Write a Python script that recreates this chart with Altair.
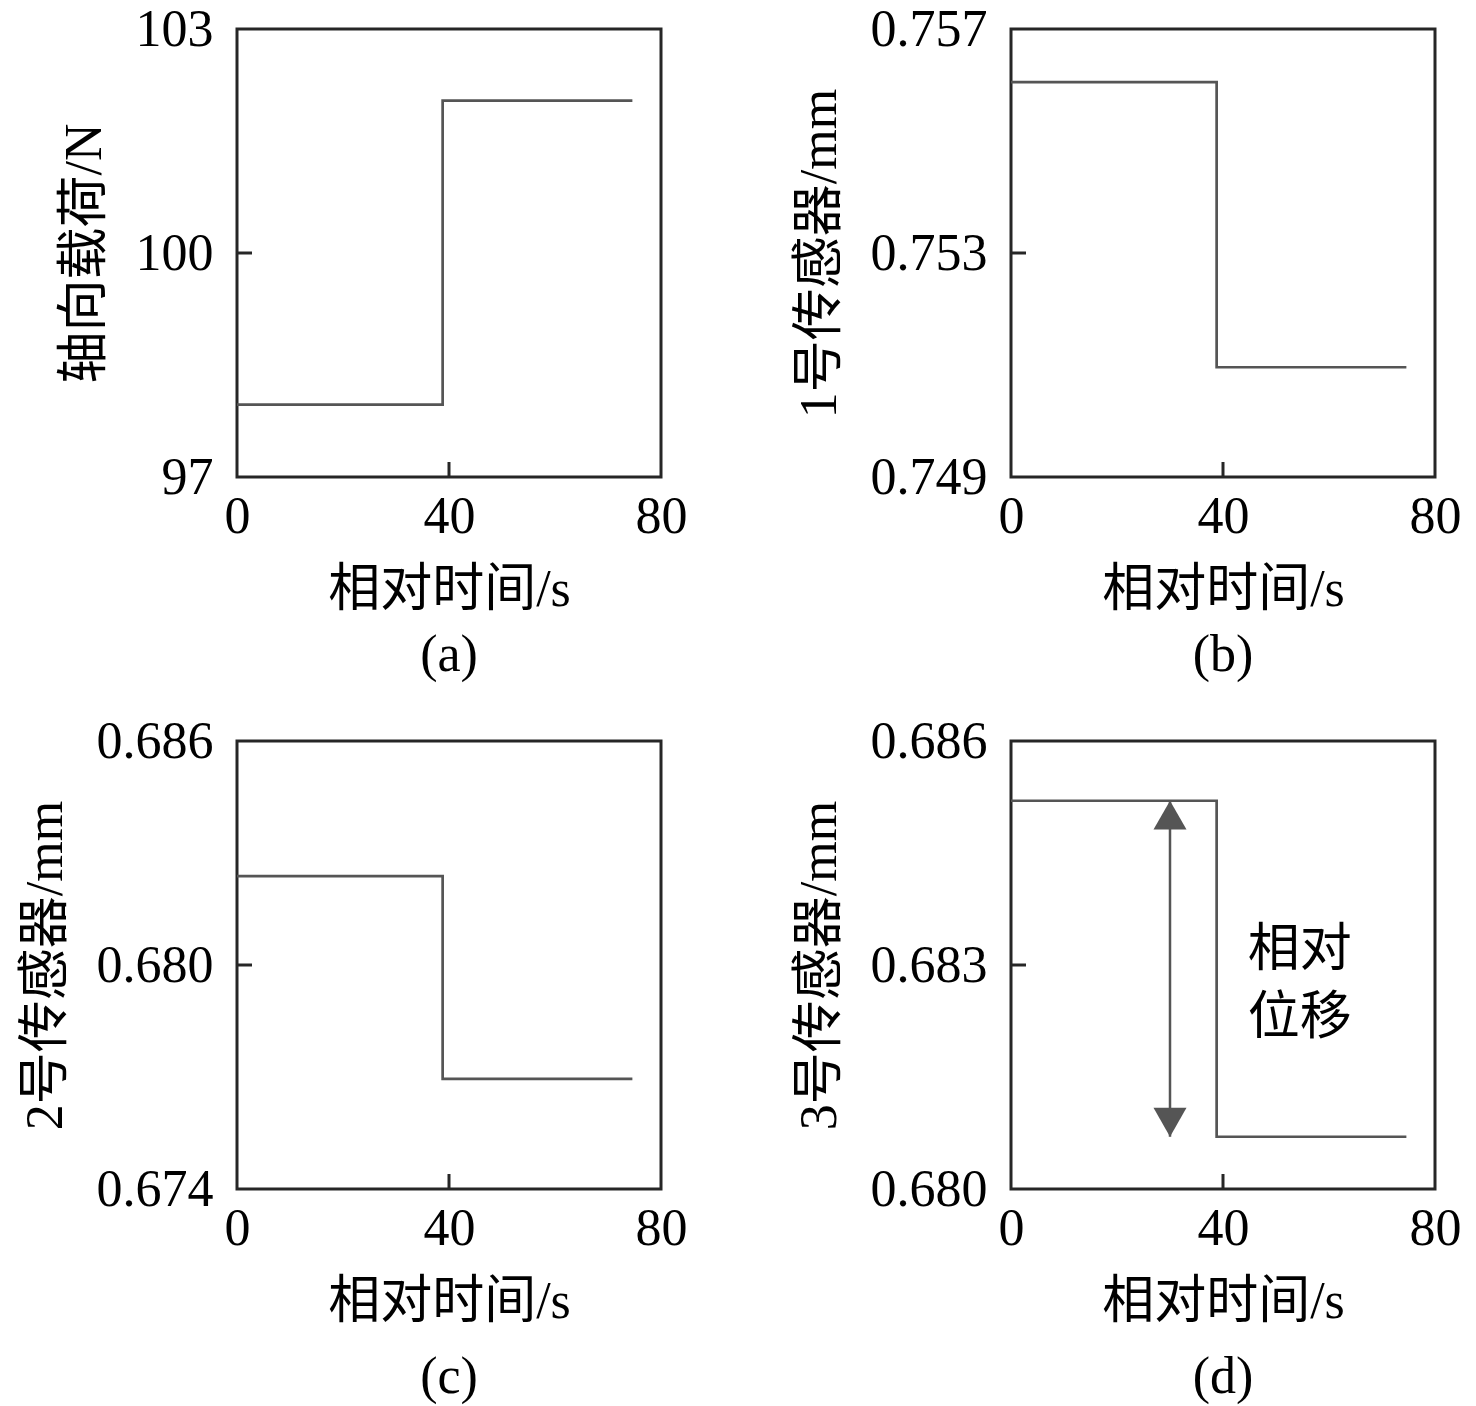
import altair as alt
import pandas as pd

# ---- data ----
t = [0, 38.8, 74.6]
load_n = [97.97, 102.04, 102.04]
sensor1 = [0.75605, 0.75096, 0.75096]
sensor2 = [0.68238, 0.67695, 0.67695]
sensor3 = [0.68520, 0.68070, 0.68070]

x_ticks = [0, 40, 80]
y_ticks_a = [97, 100, 103]
y_ticks_b = [0.749, 0.753, 0.757]
y_ticks_c = [0.674, 0.680, 0.686]
y_ticks_d = [0.680, 0.683, 0.686]

y_titles = ["轴向载荷/N", "1号传感器/mm", "2号传感器/mm", "3号传感器/mm"]
x_title = "相对时间/s"
panel_labels = ["(a)", "(b)", "(c)", "(d)"]

arrow_t = [30, 30]
arrow_v = [0.68520, 0.68070]
note_t = [54.5]
note_v = [0.6832]
note_text = ["相对", "位移"]

W, H = 424, 448
FONT = "Liberation Serif, Noto Sans CJK SC"
LINE = "#555555"
FRAME = "#262626"


def panel(values, yticks, fmt, ytitle, label, label_offset, extra=None):
    xs = alt.Scale(domain=[x_ticks[0], x_ticks[-1]], nice=False, zero=False)
    ys = alt.Scale(domain=[yticks[0], yticks[-1]], nice=False, zero=False)
    xaxis = alt.Axis(values=x_ticks, format="d", title=x_title)
    yaxis = alt.Axis(values=yticks, format=fmt, title=ytitle)
    xenc = alt.X("t:Q", scale=xs, axis=xaxis)
    yenc = alt.Y("v:Q", scale=ys, axis=yaxis)

    df = pd.DataFrame({"t": t, "v": values})
    line = alt.Chart(df).mark_line(
        interpolate="step-after", color=LINE, strokeWidth=2.7
    ).encode(x=xenc, y=yenc)

    xt = alt.Chart(pd.DataFrame({"t": [x_ticks[1]]})).mark_rule(
        color=FRAME, strokeWidth=3
    ).encode(x=xenc, y=alt.value(H), y2=alt.value(H - 15))
    yt = alt.Chart(pd.DataFrame({"v": [yticks[1]]})).mark_rule(
        color=FRAME, strokeWidth=3
    ).encode(y=yenc, x=alt.value(0), x2=alt.value(15))

    layers = [line, xt, yt]
    if extra is not None:
        layers += extra(xenc, yenc)

    return alt.layer(*layers).properties(
        width=W, height=H,
        title=alt.TitleParams(
            text=label, orient="bottom", fontSize=52, font=FONT,
            fontWeight="normal", color="black", offset=label_offset,
        ),
    )


def arrow_layers(xenc, yenc):
    adf = pd.DataFrame({"t": arrow_t, "v": arrow_v})
    shaft = alt.Chart(adf).mark_line(color=LINE, strokeWidth=2.5).encode(
        x=xenc, y=yenc
    )
    up = alt.Chart(pd.DataFrame({"t": arrow_t[:1], "v": arrow_v[:1]})).mark_point(
        shape="M0,0L-1,1.75L1,1.75Z", size=1089, filled=True, color=LINE, opacity=1
    ).encode(x=xenc, y=yenc)
    down = alt.Chart(pd.DataFrame({"t": arrow_t[1:], "v": arrow_v[1:]})).mark_point(
        shape="M0,0L-1,-1.75L1,-1.75Z", size=1089, filled=True, color=LINE, opacity=1
    ).encode(x=xenc, y=yenc)
    txt = alt.Chart(pd.DataFrame({"t": note_t, "v": note_v})).mark_text(
        text=note_text, font=FONT, fontSize=52, lineHeight=68,
        align="center", baseline="middle", color="black",
    ).encode(x=xenc, y=yenc)
    return [shaft, up, down, txt]


pa = panel(load_n, y_ticks_a, "d", y_titles[0], panel_labels[0], 15)
pb = panel(sensor1, y_ticks_b, ".3f", y_titles[1], panel_labels[1], 15)
pc = panel(sensor2, y_ticks_c, ".3f", y_titles[2], panel_labels[2], 25)
pd_ = panel(sensor3, y_ticks_d, ".3f", y_titles[3], panel_labels[3], 25, arrow_layers)

chart = alt.concat(
    pa, pb, pc, pd_, columns=2,
    spacing={"row": 264, "column": 350},
    bounds="flush",
).properties(
    padding={"left": 9, "top": -7, "right": 5, "bottom": 5},
    background="white",
).configure_view(
    stroke=FRAME, strokeWidth=3
).configure_axis(
    domain=False, ticks=False, grid=False, labelFlush=False,
    labelFont=FONT, labelFontSize=52, labelColor="black",
    titleFont=FONT, titleFontSize=52, titleColor="black", titleFontWeight="normal",
).configure_axisX(
    labelPadding=14, titlePadding=22,
).configure_axisY(
    labelPadding=24, titlePadding=24,
)

chart.save("out.html", embed_options={"renderer": "svg", "actions": False})
